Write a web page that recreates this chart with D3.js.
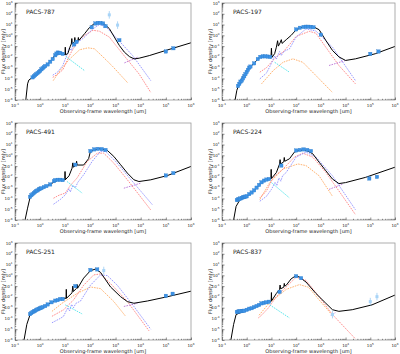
<!DOCTYPE html>
<html lang="en">
<head>
<meta charset="UTF-8">
<title>SED fits</title>
<script src="https://d3js.org/d3.v7.min.js"></script>
<style>
  body { margin: 0; background: #fff; }
  svg { font-family: "DejaVu Sans", sans-serif; }
</style>
</head>
<body>
<div id="chart"></div>
<script>
// all values are log10(wavelength / um), log10(flux / mJy)
const names = ["PACS-787", "PACS-197", "PACS-491", "PACS-224", "PACS-251", "PACS-837"];

// ---- PACS-787
const total787 = [[-0.57,-6],[-0.5,-4.5],[-0.45,-4.15],[-0.34,-3.97],[-0.21,-3.66],[0.05,-3.1],[0.38,-2.5],[0.58,-1.87],[0.78,-1.6],[0.95,-1.75],[0.99,-1.8],[1.0,-1.1],[1.01,-1.8],[1.1,-1.7],[1.2,-1.0],[1.24,-0.8],[1.26,-0.3],[1.28,-0.8],[1.36,-0.6],[1.38,-0.2],[1.4,-0.6],[1.5,-0.5],[1.52,-0.2],[1.54,-0.47],[1.77,0.16],[1.96,0.72],[2.16,1.1],[2.36,1.16],[2.56,1.03],[2.75,0.63],[2.95,-0.16],[3.15,-0.94],[3.35,-1.56],[3.55,-1.97],[3.74,-2.19],[3.94,-2.12],[4.34,-1.88],[5.0,-1.4],[6.0,-0.69]];
const obs787 = [[-0.3,-3.9],[-0.25,-3.8],[-0.2,-3.7],[-0.15,-3.6],[-0.1,-3.5],[-0.05,-3.4],[0,-3.3],[0.05,-3.15],[0.1,-3.05],[0.15,-2.95],[0.2,-2.85],[0.3,-2.7],[0.4,-2.45],[0.5,-2.2],[0.6,-1.85],[0.65,-1.7],[0.7,-1.6],[0.75,-1.62],[0.8,-1.65],[0.9,-1.72],[1.35,-0.85],[1.45,-0.6],[2.05,0.75],[2.2,1.1],[2.3,1.15],[2.4,1.15],[2.5,1.1],[2.6,0.85],[3.15,-0.45],[5.0,-1.5],[5.3,-1.2]];
const lim787 = [[2.75,1.9],[3.08,0.95]];
const red787 = [[0.5,-3.9],[0.7,-3.6],[0.9,-3.2],[1.1,-2.2],[1.25,-1.5],[1.44,-0.78],[1.7,-0.1],[2.1,0.47],[2.36,0.38],[2.75,-0.16],[3.28,-1.72],[3.94,-3.6],[4.4,-5.3]];
const blue787 = [[0.5,-3.7],[0.7,-3.4],[0.9,-2.8],[1.05,-1.9],[1.15,-1.2],[1.25,-1.4],[1.32,-0.7],[1.4,-1.0],[1.5,-0.6],[1.7,-0.3],[2.1,0.6],[2.36,1.0],[2.62,0.78],[3.0,-0.16],[3.68,-1.88],[4.4,-4.2]];
const orange787 = [[0.52,-4.2],[0.78,-3.3],[1.17,-2.2],[1.57,-1.34],[1.9,-1.16],[2.16,-1.25],[2.5,-2.0],[2.89,-2.9],[3.48,-4.4]];
const cyan787 = [[1.04,-2.0],[1.77,-3.28]];
const purple787 = [[3.35,-2.56],[3.87,-2.03]];

// ---- PACS-197
const total197 = [[-0.47,-6],[-0.4,-5.1],[-0.33,-4.66],[-0.13,-3.73],[0.1,-3.0],[0.27,-2.66],[0.53,-2.0],[0.8,-1.95],[0.98,-2.1],[1.0,-1.2],[1.02,-2.05],[1.13,-1.7],[1.2,-1.1],[1.25,-0.5],[1.28,-1.0],[1.35,-0.7],[1.4,-0.4],[1.43,-0.75],[1.6,-0.4],[1.8,0.0],[2.0,0.52],[2.27,0.77],[2.67,0.83],[2.93,0.52],[3.2,-0.47],[3.47,-1.4],[3.73,-2.0],[4.0,-2.33],[4.4,-2.18],[5.2,-1.71],[6.0,-1.03]];
const obs197 = [[-0.35,-4.7],[-0.3,-4.5],[-0.25,-4.3],[-0.2,-4.2],[-0.15,-4.0],[-0.1,-3.8],[-0.05,-3.6],[0.0,-3.4],[0.05,-3.2],[0.1,-3.0],[0.15,-2.9],[0.3,-2.6],[0.45,-2.2],[0.55,-2.0],[0.65,-1.95],[0.75,-1.95],[0.85,-1.97],[0.95,-2.0],[2.0,0.55],[2.15,0.7],[2.3,0.78],[2.4,0.8],[2.5,0.8],[2.6,0.78],[2.7,0.75],[3.0,0.06],[5.0,-1.72],[5.33,-1.5]];
const lim197 = [];
const red197 = [[0.53,-3.42],[0.8,-3.0],[1.07,-2.3],[1.25,-1.9],[1.47,-1.56],[1.75,-0.8],[2.0,-0.1],[2.53,0.37],[2.8,0.2],[3.2,-1.1],[3.73,-2.8],[4.4,-4.5]];
const blue197 = [[0.53,-4.04],[0.8,-3.5],[1.0,-2.6],[1.13,-1.9],[1.2,-2.2],[1.33,-1.5],[1.4,-1.87],[1.5,-1.5],[1.73,-1.25],[2.0,-0.16],[2.4,0.6],[2.8,0.4],[3.47,-1.1],[4.4,-4.2]];
const orange197 = [[0.6,-4.5],[1.07,-3.27],[1.47,-2.5],[1.87,-2.18],[2.27,-2.5],[2.8,-3.73],[3.47,-5.3]];
const cyan197 = [[1.13,-2.5],[1.73,-3.42]];
const purple197 = [[3.33,-2.8],[4.0,-2.33]];

// ---- PACS-491
const total491 = [[-0.6,-6],[-0.5,-4.9],[-0.4,-3.9],[-0.27,-3.5],[0.07,-3.05],[0.4,-2.68],[0.73,-2.27],[0.98,-2.27],[0.99,-1.5],[1.0,-2.27],[1.15,-1.9],[1.27,-1.19],[1.3,-0.7],[1.33,-1.1],[1.43,-0.9],[1.45,-0.55],[1.47,-0.9],[1.73,-0.9],[1.93,-0.3],[2.0,0.37],[2.33,0.62],[2.67,0.46],[2.93,-0.1],[3.2,-0.87],[3.47,-1.65],[3.73,-2.27],[3.93,-2.43],[4.4,-2.27],[5.07,-1.87],[6.0,-1.03]];
const obs491 = [[-0.4,-3.85],[-0.35,-3.7],[-0.3,-3.6],[-0.25,-3.5],[-0.2,-3.4],[-0.15,-3.3],[-0.1,-3.25],[-0.05,-3.15],[0,-3.1],[0.05,-3.05],[0.15,-2.95],[0.25,-2.85],[0.4,-2.7],[0.55,-2.4],[0.6,-2.3],[0.7,-2.27],[0.8,-2.27],[0.9,-2.3],[1.4,-0.87],[2.0,0.4],[2.15,0.55],[2.3,0.6],[2.45,0.58],[2.6,0.5],[5.0,-1.87],[5.3,-1.65]];
const lim491 = [];
const red491 = [[0.53,-3.98],[0.75,-3.7],[1.0,-3.5],[1.2,-2.8],[1.47,-2.1],[1.87,-0.57],[2.27,0.2],[2.53,0.2],[2.93,-0.72],[3.47,-2.27],[4.4,-5.07]];
const blue491 = [[0.53,-4.54],[0.8,-4.1],[1.0,-3.67],[1.15,-3.1],[1.2,-3.4],[1.3,-2.8],[1.4,-3.0],[1.5,-2.5],[1.73,-1.8],[2.07,-0.56],[2.4,0.37],[2.6,0.37],[3.0,-0.56],[3.73,-2.58],[4.47,-4.6]];
const orange491 = [];
const cyan491 = [[1.07,-2.43],[1.67,-3.5]];
const purple491 = [[3.33,-3.05],[4.0,-2.58]];

// ---- PACS-224
const total224 = [[-0.53,-6],[-0.43,-4.74],[-0.27,-4.1],[0,-3.8],[0.27,-3.3],[0.67,-2.37],[0.98,-2.15],[0.99,-1.3],[1.0,-2.15],[1.2,-1.6],[1.33,-0.8],[1.35,-0.4],[1.37,-0.8],[1.5,-0.6],[1.52,-0.2],[1.54,-0.55],[1.73,-0.32],[1.93,0.3],[2.13,0.47],[2.4,0.47],[2.67,0.15],[2.93,-0.64],[3.2,-1.43],[3.47,-2.2],[3.73,-2.62],[4.0,-2.53],[4.8,-2.05],[6.0,-1.1]];
const obs224 = [[-0.4,-4.15],[-0.35,-4.1],[-0.3,-4.05],[-0.25,-4.0],[-0.2,-3.95],[-0.15,-3.9],[-0.1,-3.87],[-0.05,-3.83],[0,-3.8],[0.1,-3.6],[0.2,-3.45],[0.3,-3.25],[0.4,-3.0],[0.5,-2.75],[0.6,-2.5],[0.7,-2.35],[0.8,-2.25],[0.9,-2.2],[1.4,-0.95],[2.0,0.45],[2.15,0.5],[2.3,0.55],[2.45,0.5],[2.6,0.4],[4.96,-2.15],[5.27,-2.0]];
const lim224 = [];
const red224 = [[0.53,-3.95],[0.8,-3.3],[1.07,-2.05],[1.2,-1.8],[1.47,-1.27],[1.93,-0.16],[2.27,0.2],[2.67,-0.16],[3.2,-1.58],[3.73,-3.3],[4.4,-5.5]];
const blue224 = [[0.53,-4.26],[0.8,-3.8],[1.0,-3.16],[1.15,-2.5],[1.22,-2.8],[1.3,-2.1],[1.38,-2.4],[1.45,-1.9],[1.6,-1.58],[2.0,-0.16],[2.4,0.3],[2.8,-0.16],[3.47,-1.9],[4.4,-5.05]];
const orange224 = [[0.53,-4.1],[0.93,-2.53],[1.47,-1.27],[2.07,-0.8],[2.4,-0.95],[2.93,-1.9],[3.47,-3.8]];
const cyan224 = [[1.0,-2.53],[1.73,-3.95]];
const purple224 = [[3.33,-3.16],[3.87,-2.68]];

// ---- PACS-251
const total251 = [[-0.64,-6],[-0.53,-4.55],[-0.4,-3.64],[-0.13,-3.19],[0.13,-2.89],[0.53,-2.44],[0.87,-2.13],[1.03,-2.13],[1.04,-1.3],[1.05,-2.13],[1.27,-1.62],[1.3,-1.0],[1.32,-1.5],[1.45,-1.2],[1.47,-0.85],[1.49,-1.2],[1.73,-0.26],[2.0,0.43],[2.2,0.58],[2.4,0.28],[2.8,-1.08],[3.2,-1.98],[3.47,-2.44],[3.73,-2.59],[4.27,-2.38],[5.07,-1.98],[6.0,-1.47]];
const obs251 = [[-0.4,-3.6],[-0.35,-3.5],[-0.3,-3.4],[-0.25,-3.35],[-0.2,-3.3],[-0.15,-3.2],[-0.1,-3.15],[-0.05,-3.1],[0,-3.05],[0.05,-3.0],[0.1,-2.95],[0.2,-2.85],[0.3,-2.7],[0.45,-2.5],[0.6,-2.35],[0.7,-2.3],[0.8,-2.2],[0.9,-2.2],[1.4,-1.0],[2.0,0.5],[2.27,0.55],[5.0,-1.9],[5.27,-1.71]];
const lim251 = [[2.53,0.45]];
const red251 = [[0.47,-3.8],[0.93,-3.2],[1.33,-2.28],[1.73,-0.92],[2.13,0.04],[2.4,0.13],[2.8,-0.77],[3.47,-2.43],[4.33,-5.15]];
const blue251 = [[0.47,-4.4],[0.8,-4.0],[0.93,-3.8],[1.1,-3.0],[1.17,-3.3],[1.25,-2.7],[1.33,-3.0],[1.42,-2.6],[1.6,-2.4],[2.0,-0.92],[2.4,0.04],[2.67,-0.02],[3.07,-0.92],[3.73,-2.89],[4.4,-5.0]];
const orange251 = [[0.47,-3.34],[0.87,-2.59],[1.47,-1.68],[2.0,-1.08],[2.4,-1.23],[2.93,-2.43],[3.4,-3.8]];
const cyan251 = [[1.0,-2.74],[1.67,-3.58]];
const purple251 = [[3.33,-2.89],[3.87,-2.59]];

// ---- PACS-837
const total837 = [[-0.64,-6],[-0.53,-4.55],[-0.43,-3.64],[-0.13,-3.34],[0.27,-3.04],[0.67,-2.59],[0.93,-2.44],[0.99,-2.4],[1.0,-1.6],[1.01,-2.35],[1.2,-1.68],[1.33,-1.3],[1.35,-0.9],[1.37,-1.25],[1.5,-1.1],[1.52,-0.75],[1.54,-1.0],[1.6,-0.92],[1.8,-0.32],[2.0,-0.02],[2.13,-0.17],[2.4,-0.62],[2.8,-1.68],[3.2,-2.59],[3.47,-3.19],[3.73,-3.34],[4.27,-3.19],[5.07,-2.74],[6.0,-1.83]];
const obs837 = [[-0.4,-3.4],[-0.35,-3.37],[-0.3,-3.35],[-0.25,-3.33],[-0.2,-3.3],[-0.15,-3.3],[-0.1,-3.28],[0,-3.2],[0.1,-3.1],[0.2,-3.05],[0.3,-2.95],[0.4,-2.85],[0.5,-2.75],[0.6,-2.6],[0.7,-2.55],[0.8,-2.5],[0.9,-2.45],[1.33,-1.53],[2.0,-0.08],[2.2,-0.26]];
const lim837 = [[3.47,-3.64],[5.0,-2.44],[5.27,-1.98]];
const red837 = [[0.47,-3.95],[0.6,-3.7],[0.87,-3.04],[1.2,-1.98],[1.6,-1.07],[2.0,-0.17],[2.4,-0.47],[2.93,-1.98],[3.47,-3.64],[4.4,-5.9]];
const blue837 = [];
const orange837 = [[0.5,-3.7],[0.9,-2.6],[1.6,-1.3],[2.13,-0.86],[2.5,-1.1],[2.93,-2.28],[3.33,-3.34],[3.45,-3.7]];
const cyan837 = [[0.93,-2.74],[1.73,-3.95]];
const purple837 = [[3.4,-3.7],[3.6,-3.45]];

const totals  = [total787, total197, total491, total224, total251, total837];
const obsList = [obs787, obs197, obs491, obs224, obs251, obs837];
const limList = [lim787, lim197, lim491, lim224, lim251, lim837];
const reds    = [red787, red197, red491, red224, red251, red837];
const blues   = [blue787, blue197, blue491, blue224, blue251, blue837];
const oranges = [orange787, orange197, orange491, orange224, orange251, orange837];
const cyans   = [cyan787, cyan197, cyan491, cyan224, cyan251, cyan837];
const purples = [purple787, purple197, purple491, purple224, purple251, purple837];

const xDecades = [-1, 0, 1, 2, 3, 4, 5, 6];
const yDecades = [-6, -5, -4, -3, -2, -1, 0, 1, 2, 3];

const W = 400, H = 354;
const colX = [15, 222], colW = [176, 173];
const rowY = [3, 123, 243];
const ph = 97;

const svg = d3.select("#chart").append("svg")
    .attr("width", W).attr("height", H);

function drawPanel(i) {
    const pw = colW[i % 2];
    const g = svg.append("g")
        .attr("transform", "translate(" + colX[i % 2] + "," + rowY[Math.floor(i / 2)] + ")");

    const x = d3.scaleLog().domain([1e-1, 1e6]).range([0, pw]);
    const y = d3.scaleLog().domain([1e-6, 1e3]).range([ph, 0]);
    const px = d => x(Math.pow(10, d[0]));
    const py = d => y(Math.pow(10, d[1]));
    const line = d3.line().x(px).y(py);

    const clip = "clip" + i;
    g.append("clipPath").attr("id", clip)
        .append("rect").attr("width", pw).attr("height", ph);
    const plot = g.append("g").attr("clip-path", "url(#" + clip + ")");

    // dashed model components
    const comps = [
        [oranges[i], "#ffa04d"],
        [reds[i], "#ff7070"],
        [blues[i], "#8080ff"],
        [cyans[i], "#33e0e6"],
        [purples[i], "#b060d0"]
    ];
    comps.forEach(([pts, col]) => {
        if (!pts.length) return;
        plot.append("path").datum(pts)
            .attr("d", line)
            .attr("fill", "none")
            .attr("stroke", col)
            .attr("stroke-width", 0.8)
            .attr("stroke-dasharray", "1.6,1");
    });

    // total model
    plot.append("path").datum(totals[i])
        .attr("d", line)
        .attr("fill", "none")
        .attr("stroke", "#000")
        .attr("stroke-width", 1);

    // observed photometry
    plot.selectAll(".obs").data(obsList[i]).enter()
        .append("rect")
        .attr("x", d => px(d) - 1.7)
        .attr("y", d => py(d) - 1.7)
        .attr("width", 3.4).attr("height", 3.4)
        .attr("fill", "#3d93e6")
        .attr("stroke", "#2a78c8")
        .attr("stroke-width", 0.3);

    // points with error bars
    const lims = plot.selectAll(".lim").data(limList[i]).enter().append("g");
    lims.append("line")
        .attr("x1", px).attr("x2", px)
        .attr("y1", d => py([d[0], d[1] + 0.35]))
        .attr("y2", d => py([d[0], d[1] - 0.35]))
        .attr("stroke", "#8cc4f2").attr("stroke-width", 0.7);
    lims.append("rect")
        .attr("x", d => px(d) - 1.5)
        .attr("y", d => py(d) - 1.5)
        .attr("width", 3).attr("height", 3)
        .attr("fill", "#a8d4f7");

    // frame
    g.append("rect").attr("width", pw).attr("height", ph)
        .attr("fill", "none").attr("stroke", "#9a9a9a").attr("stroke-width", 0.8);

    // ticks (inward)
    const minorX = [];
    xDecades.slice(0, -1).forEach(k => { for (let m = 2; m < 10; m++) minorX.push(m * Math.pow(10, k)); });
    const minorY = [];
    yDecades.slice(0, -1).forEach(k => { for (let m = 2; m < 10; m++) minorY.push(m * Math.pow(10, k)); });

    const ax = g.append("g").attr("transform", "translate(0," + ph + ")");
    ax.call(d3.axisBottom(x).tickValues(xDecades.map(k => Math.pow(10, k))).tickSize(-2.5).tickFormat(""));
    ax.append("g").call(d3.axisBottom(x).tickValues(minorX).tickSize(-1.2).tickFormat(""));
    const ay = g.append("g");
    ay.call(d3.axisLeft(y).tickValues(yDecades.map(k => Math.pow(10, k))).tickSize(-2.5).tickFormat(""));
    ay.append("g").call(d3.axisLeft(y).tickValues(minorY).tickSize(-1.2).tickFormat(""));
    g.selectAll(".domain").remove();
    g.selectAll(".tick line").attr("stroke", "#222").attr("stroke-width", 0.5);

    // tick labels
    xDecades.forEach(k => {
        const t = g.append("text")
            .attr("x", x(Math.pow(10, k)))
            .attr("y", ph + 6.5)
            .attr("text-anchor", "middle")
            .attr("font-size", 4).attr("fill", "#222");
        t.append("tspan").text("10");
        t.append("tspan").attr("dy", -2).attr("font-size", 2.8).text(k);
    });
    yDecades.forEach(k => {
        const t = g.append("text")
            .attr("x", -2.5)
            .attr("y", y(Math.pow(10, k)) + 1.5)
            .attr("text-anchor", "end")
            .attr("font-size", 4).attr("fill", "#222");
        t.append("tspan").text("10");
        t.append("tspan").attr("dy", -2).attr("font-size", 2.8).text(k);
    });

    // axis titles
    g.append("text")
        .attr("x", pw / 2).attr("y", ph + 13)
        .attr("text-anchor", "middle")
        .attr("font-size", 5).attr("fill", "#222")
        .text("Observing-frame wavelength [um]");
    g.append("text")
        .attr("transform", "translate(-10," + (ph / 2) + ") rotate(-90)")
        .attr("text-anchor", "middle")
        .attr("font-size", 5).attr("fill", "#222")
        .text("Flux density [mJy]");

    // panel name
    g.append("text")
        .attr("x", 11).attr("y", 11)
        .attr("font-size", 6).attr("fill", "#222")
        .text(names[i]);
}

names.forEach((n, i) => drawPanel(i));
</script>
</body>
</html>
